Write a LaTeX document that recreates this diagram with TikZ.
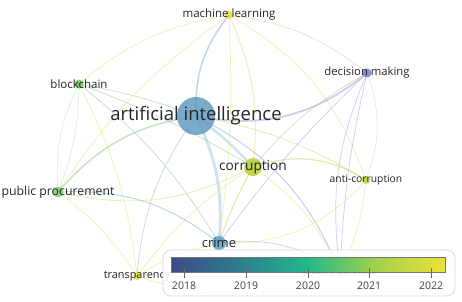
\documentclass[tikz,border=0pt]{standalone}
\usepackage{fontspec}
\setmainfont{Open Sans}
\definecolor{VYearA}{HTML}{3E4A89}
\definecolor{VYearB}{HTML}{2E7D8D}
\definecolor{VYearC}{HTML}{22B98A}
\definecolor{VYearD}{HTML}{A4D14A}
\definecolor{VYearE}{HTML}{EBE33B}
\definecolor{VLinkBlue}{HTML}{86B0CE}
\definecolor{VLinkPale}{HTML}{A9C8DD}
\definecolor{VLinkPurple}{HTML}{9A9FD8}
\definecolor{VLinkGreen}{HTML}{8CCB8A}
\definecolor{VLinkLime}{HTML}{C8DC5A}
\definecolor{VLinkYellow}{HTML}{E2E46A}
\definecolor{VLinkTeal}{HTML}{7FB8BE}
\definecolor{VNodeAI}{HTML}{659CC2}
\definecolor{VNodeCrime}{HTML}{5C9DC6}
\definecolor{VNodeCorr}{HTML}{B4D233}
\definecolor{VNodeGreen}{HTML}{6EC45A}
\definecolor{VNodeYellow}{HTML}{E4E236}
\definecolor{VNodePurple}{HTML}{7479C4}
\definecolor{VText}{HTML}{262626}
\pgfdeclarehorizontalshading{viridisbar}{100bp}{color(0bp)=(VYearA); color(25bp)=(VYearA); color(37.5bp)=(VYearB); color(50bp)=(VYearC); color(62.5bp)=(VYearD); color(75bp)=(VYearE); color(100bp)=(VYearE)}
\begin{document}
\begin{tikzpicture}[x=1pt,y=-1pt,
  kw/.style={circle,inner sep=0pt,fill opacity=0.85},
  lbl/.style={text=VText,inner sep=0pt,font=\fontsize{11.5}{13}\selectfont},
  link/.style={line width=0.7pt,draw opacity=0.5},
  tick/.style={draw=black!60,line width=0.6pt},
  year/.style={text=black!75,inner sep=0pt,font=\fontsize{10.5}{12}\selectfont}]
  \useasboundingbox[fill=white] (0,0) rectangle (462,301);

  % keyword positions
  \coordinate (ai) at (196,116);
  \coordinate (ml) at (229,15);
  \coordinate (dm) at (367,73);
  \coordinate (bc) at (79,84);
  \coordinate (cor) at (253,167);
  \coordinate (anti) at (366,180);
  \coordinate (pp) at (58,192);
  \coordinate (crime) at (219,243);
  \coordinate (tr) at (137,276);
  \coordinate (ps) at (340,272);

  % links
  \draw[link,VLinkYellow] (bc) to[bend left=15] (ml);
  \draw[link,VLinkYellow!70!VLinkPurple] (ml) to[bend left=15] (dm);
  \draw[link,VLinkGreen!60!white] (bc) to[bend right=15] (pp);
  \draw[link,VLinkGreen!60!white] (bc) to[bend left=10] (pp);
  \draw[link,VLinkYellow] (bc) to[bend left=10] (tr);
  \draw[link,VLinkYellow] (pp) to[bend left=10] (tr);
  \draw[link,VLinkGreen] (bc) to[bend left=5] (cor);
  \draw[link,VLinkTeal] (bc) to[bend left=10] (crime);
  \draw[link,VLinkYellow] (ml) to[bend right=10] (pp);
  \draw[link,VLinkYellow] (ml) to[bend left=5] (crime);
  \draw[link,VLinkYellow,line width=1pt] (ml) to[bend left=15] (cor);
  \draw[link,VLinkYellow] (ml) to[bend left=20] (anti);
  \draw[link,VLinkBlue,line width=1.5pt] (ai) to[bend left=20] (ml);
  \draw[link,VLinkGreen] (bc) to[bend left=5] (ai);
  \draw[link,VLinkGreen,line width=1.5pt] (ai) to[bend right=20] (pp);
  \draw[link,VLinkBlue] (ai) to[bend right=15] (tr);
  \draw[link,VLinkPurple,line width=1.8pt] (ai) to[bend right=25] (dm);
  \draw[link,VLinkPurple,line width=1pt] (ai) to[bend left=20] (ps);
  \draw[link,VLinkLime] (ai) to[bend left=10] (anti);
  \draw[link,VLinkPale,line width=2.5pt] (ai) to[bend left=5] (cor);
  \draw[link,VLinkPale,line width=3pt] (ai) to[bend left=15] (crime);
  \draw[link,VLinkLime,line width=1.2pt] (cor) to[bend left=25] (anti);
  \draw[link,VLinkLime] (cor) to[bend left=20] (pp);
  \draw[link,VLinkLime,line width=1.2pt] (cor) to[bend right=5] (crime);
  \draw[link,VLinkYellow] (cor) to[bend right=10] (tr);
  \draw[link,VLinkYellow] (cor) to[bend left=15] (ps);
  \draw[link,VLinkPurple!60!VLinkYellow] (cor) to[bend left=10] (dm);
  \draw[link,VLinkTeal,line width=1pt] (pp) to[bend left=20] (crime);
  \draw[link,VLinkPurple] (crime) to[bend left=5] (dm);
  \draw[link,VLinkYellow] (crime) to[bend right=25] (anti);
  \draw[link,VLinkPurple] (crime) to[bend left=20] (ps);
  \draw[link,VLinkYellow] (crime) to[bend right=10] (tr);
  \draw[link,VLinkPurple] (dm) to[bend right=5] (ps);
  \draw[link,VLinkPurple] (dm) to[bend right=15] (ps);
  \draw[link,VLinkPurple!50!white] (dm) to[bend left=20] (anti);
  \draw[link,VLinkYellow] (anti) to[bend left=10] (ps);
  \draw[link,VLinkYellow] (tr) to[bend right=20] (ps);

  % keywords
  \node[kw,fill=VNodeAI,minimum size=38pt] (ai-c) at (ai) {};
  \node[kw,fill=VNodeYellow,minimum size=8pt] (ml-c) at (ml) {};
  \node[kw,fill=VNodePurple,minimum size=9pt] (dm-c) at (dm) {};
  \node[kw,fill=VNodeGreen,minimum size=9pt] (bc-c) at (bc) {};
  \node[kw,fill=VNodeCorr,minimum size=18pt] (cor-c) at (cor) {};
  \node[kw,fill=VNodeCorr!80!VNodeYellow,minimum size=8pt] (anti-c) at (anti) {};
  \node[kw,fill=VNodeGreen!85!white,minimum size=11pt] (pp-c) at (pp) {};
  \node[kw,fill=VNodeCrime,minimum size=14pt] (crime-c) at (crime) {};
  \node[kw,fill=VNodeYellow,minimum size=8pt] (tr-c) at (tr) {};
  \node[kw,fill=VNodePurple!70!white,minimum size=8pt] (ps-c) at (ps) {};

  \node[lbl,font=\fontsize{18.5}{21}\selectfont] (ai-l) at (ai) {artificial intelligence};
  \node[lbl] (ml-l) at (ml) {machine learning};
  \node[lbl,font=\fontsize{11.3}{13}\selectfont] (dm-l) at (dm) {decision making};
  \node[lbl] (bc-l) at (bc) {blockchain};
  \node[lbl,font=\fontsize{13.7}{16}\selectfont] (cor-l) at (cor) {corruption};
  \node[lbl,font=\fontsize{10.3}{12}\selectfont] (anti-l) at (anti) {anti-corruption};
  \node[lbl,font=\fontsize{12.3}{14}\selectfont] (pp-l) at (pp) {public procurement};
  \node[lbl,font=\fontsize{13}{15}\selectfont] (crime-l) at (crime) {crime};
  \node[lbl,font=\fontsize{10.9}{13}\selectfont] (tr-l) at (tr) {transparency};
  \node[lbl,font=\fontsize{10.9}{13}\selectfont] (ps-l) at (ps) {public services};

  % year legend
  \node[draw=black!15,fill=white,fill opacity=0.85,rounded corners=8pt,line width=0.8pt,
    minimum width=292pt,minimum height=46pt,inner sep=0pt] (legend) at (309,273) {};
  \shade[shading=viridisbar,draw=black!55,line width=0.6pt] (171,257) rectangle (445,272);
  \foreach \yr/\xpos in {2018/184,2019/246,2020/308,2021/369,2022/431}{
    \draw[tick] (\xpos,268) -- (\xpos,278);
    \node[year] (y\yr) at (\xpos,286) {\yr};
  }
\end{tikzpicture}
\end{document}
